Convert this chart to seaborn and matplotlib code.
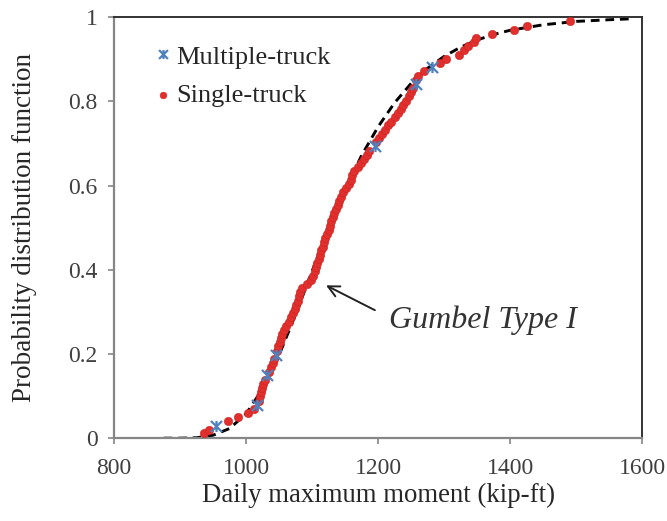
import matplotlib
matplotlib.use("Agg")
import matplotlib.pyplot as plt
import pandas as pd
import seaborn as sns
from matplotlib.path import Path

# dashed Gumbel Type I fit
gumbel_x = [875, 900, 925, 950, 975, 1000, 1025, 1050, 1075, 1100, 1125, 1150, 1175,
            1200, 1225, 1250, 1275, 1300, 1325, 1350, 1375, 1400, 1450, 1500, 1550, 1580]
gumbel_F = [0.000, 0.000, 0.001, 0.007, 0.023, 0.058, 0.117, 0.198, 0.294, 0.397, 0.498,
            0.590, 0.672, 0.740, 0.797, 0.843, 0.879, 0.907, 0.929, 0.946, 0.959, 0.969,
            0.982, 0.990, 0.994, 0.996]

multi_x = [955, 1017, 1031, 1045, 1195, 1257, 1282]
multi_F = [0.030, 0.079, 0.149, 0.198, 0.693, 0.842, 0.881]

single_x = [936, 944, 972, 988, 1003, 1012, 1019, 1021, 1022, 1024, 1026, 1028,
            1034, 1037, 1040, 1042, 1047, 1049, 1051, 1053, 1055, 1058, 1061, 1065,
            1068, 1071, 1074, 1076, 1078, 1080, 1082, 1085, 1092, 1099, 1102, 1104,
            1106, 1108, 1110, 1112, 1114, 1116, 1118, 1120, 1123, 1125, 1127, 1129,
            1131, 1133, 1136, 1139, 1141, 1143, 1146, 1151, 1156, 1159, 1161, 1164,
            1169, 1174, 1178, 1183, 1186, 1197, 1201, 1206, 1211, 1215, 1220, 1225,
            1230, 1234, 1238, 1242, 1246, 1250, 1253, 1258, 1260, 1270, 1293, 1303,
            1322, 1330, 1336, 1345, 1348, 1372, 1405, 1425, 1490]
single_F = [0.012, 0.020, 0.040, 0.050, 0.059, 0.069, 0.089, 0.099, 0.109, 0.119, 0.129, 0.139,
            0.158, 0.168, 0.178, 0.188, 0.208, 0.218, 0.228, 0.238, 0.248, 0.257, 0.267, 0.277,
            0.287, 0.297, 0.307, 0.317, 0.327, 0.337, 0.347, 0.356, 0.366, 0.376, 0.386, 0.396,
            0.406, 0.416, 0.426, 0.436, 0.446, 0.455, 0.465, 0.475, 0.485, 0.495, 0.505, 0.515,
            0.525, 0.535, 0.545, 0.554, 0.564, 0.574, 0.584, 0.594, 0.604, 0.614, 0.624, 0.634,
            0.644, 0.653, 0.663, 0.673, 0.683, 0.703, 0.713, 0.723, 0.733, 0.743, 0.752, 0.762,
            0.772, 0.782, 0.792, 0.802, 0.812, 0.822, 0.832, 0.851, 0.861, 0.871, 0.891, 0.901,
            0.911, 0.921, 0.931, 0.941, 0.950, 0.960, 0.970, 0.980, 0.990]

x_ticks = [800, 1000, 1200, 1400, 1600]
y_ticks = [0, 0.2, 0.4, 0.6, 0.8, 1]
y_tick_labels = ["0", "0.2", "0.4", "0.6", "0.8", "1"]

sns.set_style("white")
plt.rcParams["font.family"] = ["Liberation Serif", "DejaVu Serif"]

fig = plt.figure(figsize=(6.67, 5.21), dpi=100)
ax = fig.add_axes([0.171, 0.159, 0.792, 0.808])

gumbel = pd.DataFrame({"x": gumbel_x, "F": gumbel_F})
single = pd.DataFrame({"x": single_x, "F": single_F})
multi = pd.DataFrame({"x": multi_x, "F": multi_F})

# excel style star: an X with a vertical stroke
star = Path([(-1, -1), (1, 1), (-1, 1), (1, -1), (0, -1), (0, 1)],
            [Path.MOVETO, Path.LINETO, Path.MOVETO, Path.LINETO, Path.MOVETO, Path.LINETO])

sns.lineplot(data=gumbel, x="x", y="F", ax=ax, color="black", lw=2.1,
             dashes=False, linestyle=(0, (3, 2)), sort=False, estimator=None,
             label="_nolegend_", zorder=2)
sns.scatterplot(data=single, x="x", y="F", ax=ax, color="#e0302d", s=36,
                edgecolor="#d02020", linewidth=0.4, label="Single-truck", zorder=3)
sns.lineplot(data=multi, x="x", y="F", ax=ax, color="#4f81bd", linestyle="none",
             marker=star, markersize=8, markeredgewidth=1.6, markeredgecolor="#4f81bd",
             sort=False, estimator=None, label="Multiple-truck", zorder=4)

ax.set_xlim(800, 1600)
ax.set_ylim(0, 1)
ax.set_xticks(x_ticks)
ax.set_yticks(y_ticks)
ax.set_yticklabels(y_tick_labels)
ax.tick_params(axis="both", direction="out", length=4, width=1.2, color="#868686",
               labelsize=17, labelcolor="#404040")
ax.tick_params(axis="x", pad=10, bottom=True)
ax.tick_params(axis="y", pad=8, left=True)

for side in ["left", "bottom"]:
    ax.spines[side].set_color("#868686")
    ax.spines[side].set_linewidth(1.6)
for side in ["top", "right"]:
    ax.spines[side].set_color("#333333")
    ax.spines[side].set_linewidth(1.4)

ax.set_xlabel("Daily maximum moment (kip-ft)", fontsize=19.3, labelpad=3)
ax.set_ylabel("Probability distribution function", fontsize=19.5, labelpad=22)

handles, labels = ax.get_legend_handles_labels()
order = [labels.index("Multiple-truck"), labels.index("Single-truck")]
ax.legend([handles[i] for i in order], [labels[i] for i in order],
          loc="upper left", bbox_to_anchor=(0.025, 0.99), frameon=False, fontsize=19,
          handletextpad=0.05, handlelength=0.9, labelspacing=0.55, markerscale=0.8)

ax.text(1217, 0.28, "Gumbel Type I", fontsize=23, style="italic", color="#333333",
        va="center", ha="left")
ax.annotate("", xy=(1121, 0.363), xytext=(1195, 0.304),
            arrowprops=dict(arrowstyle="->", color="#222222", lw=1.4,
                            shrinkA=0, shrinkB=0, mutation_scale=20))

fig.savefig("out.png", dpi=100)
